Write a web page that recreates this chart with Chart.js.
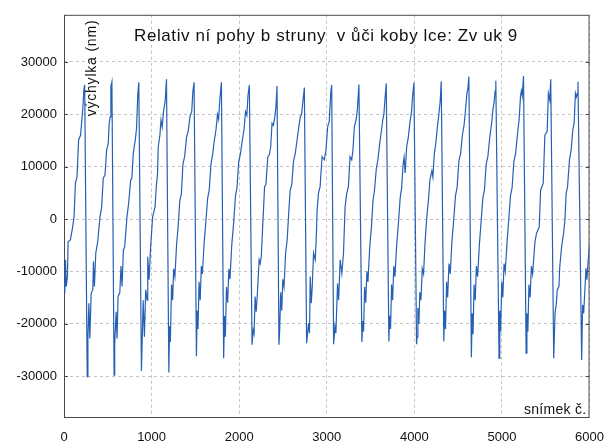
<!DOCTYPE html>
<html>
<head>
<meta charset="utf-8">
<script src="https://cdn.jsdelivr.net/npm/chart.js@4"></script>
<style>
  body { margin: 0; background: #fff; }
  canvas { display: block; }
</style>
</head>
<body>
<canvas id="myChart" width="616" height="446"></canvas>
<script>
const snimek = [
  0, 9, 17, 25, 39, 47, 73, 96, 115, 130, 149, 167, 189, 205, 216, 226, 236,
  265, 273, 284, 295, 310, 329, 336, 347, 363, 385, 411, 430, 448, 468, 487, 505, 516, 527, 535, 547,
  572, 579, 595, 606, 617, 637, 651, 663, 678, 693, 719, 738, 761, 775, 791, 814, 828, 843, 854,
  884, 904, 918, 933, 949, 956, 971, 989, 1012, 1039, 1054, 1068, 1076, 1095, 1107, 1121, 1136, 1155, 1170,
  1197, 1205, 1214, 1228, 1240, 1252, 1266, 1285, 1305, 1322, 1340, 1358, 1378, 1398, 1418, 1440, 1458, 1472, 1485,
  1512, 1520, 1530, 1542, 1555, 1568, 1580, 1600, 1622, 1640, 1658, 1678, 1698, 1716, 1735, 1752, 1765, 1780, 1797,
  1823, 1832, 1842, 1855, 1868, 1882, 1895, 1915, 1938, 1958, 1975, 1995, 2015, 2035, 2055, 2072, 2088, 2100, 2116,
  2147, 2160, 2170, 2182, 2194, 2206, 2228, 2240, 2252, 2272, 2290, 2305, 2327, 2345, 2360, 2375, 2390, 2407, 2420, 2432,
  2454, 2462, 2474, 2486, 2498, 2512, 2530, 2548, 2565, 2582, 2600, 2620, 2640, 2660, 2680, 2698, 2712, 2728, 2744,
  2770, 2792, 2803, 2811, 2823, 2834, 2849, 2868, 2879, 2890, 2905, 2924, 2946, 2972, 2991, 3010, 3028, 3047, 3056,
  3078, 3093, 3104, 3123, 3135, 3153, 3172, 3191, 3209, 3228, 3247, 3266, 3285, 3299, 3315, 3335, 3350, 3367,
  3401, 3410, 3420, 3432, 3445, 3458, 3470, 3490, 3510, 3528, 3545, 3565, 3585, 3605, 3625, 3640, 3652, 3665, 3679,
  3709, 3718, 3728, 3740, 3752, 3765, 3778, 3798, 3818, 3838, 3855, 3872, 3883, 3895, 3912, 3930, 3950, 3968, 3980, 3995,
  4025, 4032, 4040, 4052, 4062, 4075, 4090, 4105, 4122, 4140, 4160, 4178, 4200, 4212, 4228, 4245, 4262, 4280, 4295, 4307,
  4336, 4345, 4356, 4368, 4380, 4395, 4410, 4428, 4450, 4470, 4488, 4508, 4528, 4548, 4568, 4585, 4600, 4612, 4622,
  4651, 4660, 4670, 4682, 4695, 4708, 4722, 4742, 4762, 4782, 4800, 4820, 4840, 4860, 4880, 4898, 4912, 4922, 4930,
  4967, 4975, 4985, 4998, 5010, 5024, 5038, 5058, 5078, 5098, 5116, 5136, 5156, 5176, 5196, 5212, 5222, 5232, 5246,
  5276, 5285, 5296, 5308, 5322, 5336, 5350, 5377, 5395, 5426, 5441, 5471, 5490, 5516, 5530, 5546, 5557,
  5591, 5606, 5621, 5632, 5651, 5659, 5681, 5704, 5719, 5733, 5749, 5771, 5790, 5809, 5824, 5839, 5850, 5861, 5868,
  5910, 5921, 5933, 5947, 5959, 5970, 5985, 6000
];
const vychylka = [
  -12000, -14200, -7800, -12900, -11000, -4300, -4000, -1800, 400, 6800, 8100, 15100, 16000, 19200, 21400, 24600, 25600,
  -30100, -22800, -16100, -22800, -14200, -13500, -8100, -12900, -6500, -4300, 400, 2300, 7800, 8400, 13200, 14400, 18300, 19500, 25300, 26200,
  -29800, -23700, -17700, -22800, -14800, -14100, -9000, -12900, -5900, -5300, 400, 3000, 7400, 7800, 12600, 15100, 17300, 24000, 26100,
  -29000, -15500, -22500, -13500, -15500, -7200, -11600, -5300, 400, 2300, 6200, 8700, 13800, 16000, 18900, 17600, 20500, 22500, 26700,
  -29300, -20500, -23500, -12500, -15500, -9500, -11000, -5000, -1000, 3500, 4800, 10500, 12000, 15500, 16800, 19800, 20500, 24500, 26100,
  -26200, -17500, -21000, -12000, -15500, -9000, -10500, -4500, 0, 4000, 5500, 10500, 12500, 15000, 17000, 20000, 19000, 23000, 26100,
  -26600, -18500, -22500, -13000, -16000, -9500, -11500, -5000, -500, 4500, 6000, 11000, 12500, 15000, 17000, 20500, 19800, 23500, 25600,
  -24000, -21200, -21900, -14800, -17700, -14800, -7800, -8500, -7200, -200, 6200, 6600, 11900, 12300, 13800, 18300, 17900, 19500, 21500, 25400,
  -24000, -21500, -14000, -17500, -11500, -13000, -6500, -4000, 1000, 5500, 6500, 11000, 12500, 15000, 17500, 19500, 20000, 22500, 25100,
  -23700, -19900, -21800, -11000, -16100, -12900, -6500, -7800, -4000, 1700, 4900, 6200, 11900, 11300, 13200, 17600, 18600, 24500, 25600,
  -23900, -20500, -21800, -12300, -15500, -7800, -10400, -6500, 2300, 4900, 6200, 11900, 11300, 13200, 17600, 19000, 21000, 25700,
  -23500, -19500, -21500, -13000, -16000, -10000, -12000, -5500, -1500, 3500, 5500, 9500, 11500, 14500, 17000, 19000, 20000, 23000, 25900,
  -23400, -18500, -21000, -12500, -15500, -9000, -11000, -5000, -800, 4000, 6000, 10500, 11800, 8800, 13800, 15500, 18500, 20500, 23500, 26000,
  -23900, -22500, -17000, -20000, -14000, -15500, -9500, -10500, -4500, 0, 3500, 7500, 9200, 8000, 12500, 14500, 17500, 20000, 22500, 26300,
  -23400, -17500, -21000, -12000, -15000, -8500, -10500, -4500, 0, 4500, 6000, 11000, 12500, 16000, 18000, 21000, 24000, 25000, 27200,
  -26400, -18000, -22000, -12500, -15500, -9000, -11000, -5000, -500, 4000, 5500, 10500, 12000, 15500, 18000, 21000, 22500, 24500, 26400,
  -26600, -17500, -21500, -12000, -15000, -8500, -10000, -4500, 0, 4500, 6000, 11000, 12500, 16000, 19000, 23500, 24500, 23500, 27300,
  -25600, -18000, -21500, -12500, -15000, -9000, -10500, -4300, -2700, -1500, 5500, 6800, 16000, 16700, 24000, 22700, 26700,
  -26600, -18000, -16100, -13500, -12900, -9400, -5300, -2700, -200, 4900, 6200, 11300, 13200, 17000, 18300, 24000, 23300, 24000, 26200,
  -26900, -16400, -18000, -13500, -9400, -11600, -7800, -5000
];
const xTicks = [0, 1000, 2000, 3000, 4000, 5000, 6000];
const yTicks = [-30000, -20000, -10000, 0, 10000, 20000, 30000];

const nadpis = 'Relativ ní pohy b struny  v ůči koby lce: Zv uk 9';
const osaY = 'výchylka (nm)';
const osaX = 'snímek č.';

const textPlugin = {
  id: 'frameAndText',
  beforeDatasetsDraw(chart) {
    const { ctx, chartArea: a, scales } = chart;
    ctx.save();
    ctx.strokeStyle = '#4a4a4a';
    ctx.lineWidth = 1;
    ctx.strokeRect(a.left + 0.5, a.top + 0.5, a.right - a.left - 1, a.bottom - a.top - 1);
    // short inward ticks on left and right
    yTicks.forEach(v => {
      const y = Math.round(scales.y.getPixelForValue(v)) + 0.5;
      ctx.beginPath();
      ctx.moveTo(a.left, y); ctx.lineTo(a.left + 4, y);
      ctx.moveTo(a.right - 4, y); ctx.lineTo(a.right, y);
      ctx.stroke();
    });
    ctx.restore();
  },
  afterDraw(chart) {
    const { ctx, chartArea: a } = chart;
    ctx.save();
    ctx.fillStyle = '#111';
    ctx.font = '17px "Liberation Sans", Arial, sans-serif';
    ctx.letterSpacing = '0.6px';
    ctx.textAlign = 'left';
    ctx.textBaseline = 'middle';
    ctx.fillText(nadpis, 134, 36);

    ctx.font = '14px "Liberation Sans", Arial, sans-serif';
    ctx.letterSpacing = '0.3px';
    ctx.textAlign = 'right';
    ctx.fillText(osaX, a.right - 3, 410);

    ctx.letterSpacing = '0.8px';
    ctx.translate(92, 68);
    ctx.rotate(-Math.PI / 2);
    ctx.textAlign = 'center';
    ctx.fillText(osaY, 0, 0);
    ctx.restore();
  }
};

const tickFont = { family: '"Liberation Sans", Arial, sans-serif', size: 13 };

new Chart(document.getElementById('myChart'), {
  type: 'line',
  data: {
    datasets: [{
      data: snimek.map((x, i) => ({ x: x, y: vychylka[i] })),
      borderColor: '#2660b4',
      borderWidth: 1.2,
      pointRadius: 0,
      tension: 0,
      fill: false
    }]
  },
  options: {
    responsive: false,
    animation: false,
    layout: { padding: { top: 14, right: 19, left: 0, bottom: 0 } },
    plugins: { legend: { display: false }, tooltip: { enabled: false } },
    scales: {
      x: {
        type: 'linear',
        min: 0,
        max: 6000,
        afterBuildTicks: s => { s.ticks = xTicks.map(v => ({ value: v })); },
        afterFit: s => { s.height = 28; },
        grid: { color: '#c4c4c4', drawTicks: false, lineWidth: 1 },
        border: { display: false, dash: [3, 3] },
        ticks: { color: '#111', padding: 12, maxRotation: 0, font: tickFont, callback: v => String(v) }
      },
      y: {
        min: -38000,
        max: 39000,
        afterBuildTicks: s => { s.ticks = yTicks.map(v => ({ value: v })); },
        afterFit: s => { s.width = 64; },
        grid: { color: '#c4c4c4', drawTicks: false, lineWidth: 1 },
        border: { display: false, dash: [3, 3] },
        ticks: { color: '#111', padding: 7, font: tickFont, callback: v => String(v) }
      }
    }
  },
  plugins: [textPlugin]
});
</script>
</body>
</html>
